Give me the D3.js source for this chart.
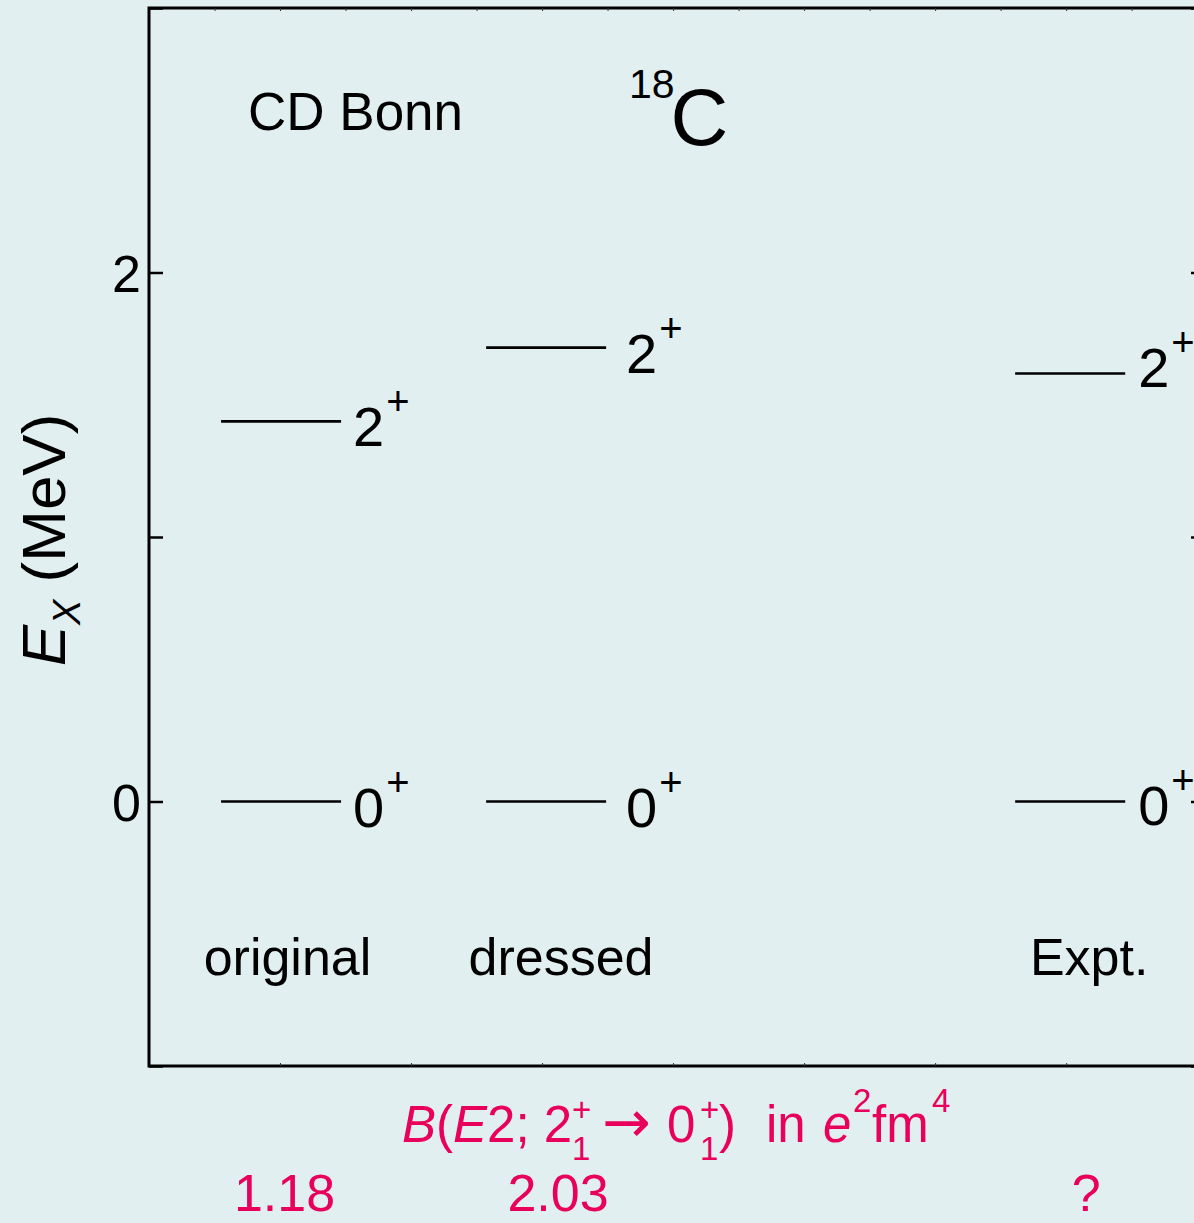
<!DOCTYPE html>
<html>
<head>
<meta charset="utf-8">
<script src="https://cdn.jsdelivr.net/npm/d3@7"></script>
<style>
  body { margin: 0; background: #e1eff0; }
  svg { display: block; }
  text { font-family: "Liberation Sans", Arial, Helvetica, sans-serif; }
</style>
</head>
<body>
<div id="chart"></div>
<script>
// level scheme of 18C, CD Bonn
const columns = ["original", "dressed", "Expt."];
const energy2 = [1.437, 1.716, 1.618];   // 2+ level, MeV
const energy0 = [0, 0, 0];               // 0+ ground state
const spins = ["2", "0"];
const be2Values = ["1.18", "2.03", "?"];
const yTickLabels = [0, 2];

function main() {
    let width = 1194, height = 1223;

    let svg = d3.select("#chart").append("svg")
        .attr("width", width)
        .attr("height", height);

    // x in column units, 131px each
    let xScale = d3.scaleLinear().domain([0, 8.06]).range([149, 1205]);
    let yScale = d3.scaleLinear().domain([-1, 3]).range([1066, 8]);

    // layout of the columns (not data)
    let lineCenter = d3.scaleOrdinal().domain(columns).range([1.008, 3.031, 7.031]);
    let lineHalf = d3.scaleOrdinal().domain(columns).range([0.458, 0.458, 0.42]);
    let labelCenter = d3.scaleOrdinal().domain(columns).range([1.057, 3.145, 7.176]);
    let labelGap = d3.scaleOrdinal().domain(columns).range([12, 20, 13]);

    // frame
    svg.append("rect")
        .attr("x", xScale(0))
        .attr("y", yScale(3))
        .attr("width", xScale(8.06) - xScale(0))
        .attr("height", yScale(-1) - yScale(3))
        .attr("fill", "none")
        .attr("stroke", "black")
        .attr("stroke-width", 3);

    // left ticks (inward)
    let left = svg.append("g")
        .attr("transform", "translate(" + xScale(0) + ",0)")
        .call(d3.axisRight(yScale).tickValues([-1, 0, 1, 2, 3]).tickSize(14).tickSizeOuter(0).tickFormat(""));
    left.select(".domain").remove();
    left.selectAll("line").attr("stroke-width", 2.5);

    let right = svg.append("g")
        .attr("transform", "translate(" + xScale(8.06) + ",0)")
        .call(d3.axisLeft(yScale).tickValues([-1, 0, 1, 2, 3]).tickSize(14).tickSizeOuter(0).tickFormat(""));
    right.select(".domain").remove();
    right.selectAll("line").attr("stroke-width", 2.5);

    // tiny ticks top and bottom
    let bottom = svg.append("g")
        .attr("transform", "translate(0," + yScale(-1) + ")")
        .call(d3.axisTop(xScale).tickValues(d3.range(1, 9)).tickSize(3).tickSizeOuter(0).tickFormat(""));
    bottom.select(".domain").remove();
    bottom.selectAll("line").attr("stroke", "#333");

    let top = svg.append("g")
        .attr("transform", "translate(0," + yScale(3) + ")")
        .call(d3.axisBottom(xScale).tickValues(d3.range(0.5, 8, 0.5)).tickSize(3).tickSizeOuter(0).tickFormat(""));
    top.select(".domain").remove();
    top.selectAll("line").attr("stroke", "#333");

    // y tick labels
    svg.selectAll(".ylab")
        .data(yTickLabels)
        .enter()
        .append("text")
        .attr("class", "ylab")
        .attr("x", xScale(0) - 8)
        .attr("y", d => yScale(d) + 19)
        .attr("text-anchor", "end")
        .attr("font-size", 52)
        .text(d => d);

    // y axis title
    let yt = svg.append("text")
        .attr("transform", "translate(65," + 540 + ") rotate(-90)")
        .attr("text-anchor", "middle")
        .attr("font-size", 62);
    yt.append("tspan").attr("font-style", "italic").text("E");
    yt.append("tspan").attr("font-style", "italic").attr("font-size", 38).attr("dy", 15).text("X");
    yt.append("tspan").attr("dy", -15).text(" (MeV)");

    // levels
    let levels = [];
    columns.forEach(function(c, i) {
        levels.push({col: c, e: energy2[i], spin: spins[0], dy: (i === 2 ? 13 : 25)});
        levels.push({col: c, e: energy0[i], spin: spins[1], dy: (i === 2 ? 23 : 25)});
    });

    svg.selectAll(".level")
        .data(levels)
        .enter()
        .append("line")
        .attr("class", "level")
        .attr("x1", d => xScale(lineCenter(d.col) - lineHalf(d.col)))
        .attr("x2", d => xScale(lineCenter(d.col) + lineHalf(d.col)))
        .attr("y1", d => yScale(d.e))
        .attr("y2", d => yScale(d.e))
        .attr("stroke", "black")
        .attr("stroke-width", 2.6);

    let spinLab = svg.selectAll(".spin")
        .data(levels)
        .enter()
        .append("text")
        .attr("class", "spin")
        .attr("x", d => xScale(lineCenter(d.col) + lineHalf(d.col)) + labelGap(d.col))
        .attr("y", d => yScale(d.e) + d.dy)
        .attr("font-size", 56);
    spinLab.append("tspan").text(d => d.spin);
    spinLab.append("tspan").attr("font-size", 40).attr("dx", 2).attr("dy", -31).text("+");

    // column labels
    svg.selectAll(".collab")
        .data(columns)
        .enter()
        .append("text")
        .attr("class", "collab")
        .attr("x", d => xScale(labelCenter(d)))
        .attr("y", 975)
        .attr("text-anchor", "middle")
        .attr("font-size", 52)
        .text(d => d);

    // B(E2) values
    svg.selectAll(".be2")
        .data(be2Values)
        .enter()
        .append("text")
        .attr("class", "be2")
        .attr("x", (d, i) => xScale(labelCenter(columns[i])) - 3)
        .attr("y", 1211)
        .attr("text-anchor", "middle")
        .attr("font-size", 52)
        .attr("fill", "#e8005a")
        .text(d => d);

    // header texts
    svg.append("text")
        .attr("x", 248)
        .attr("y", 130)
        .attr("font-size", 53)
        .text("CD Bonn");

    let nuc = svg.append("text")
        .attr("x", 629)
        .attr("y", 98)
        .attr("font-size", 41);
    nuc.append("tspan").text("18");
    nuc.append("tspan").attr("font-size", 80).attr("dy", 47).attr("dx", -4).text("C");

    // B(E2) title
    let bt = svg.append("text")
        .attr("x", 402)
        .attr("y", 1142)
        .attr("font-size", 51)
        .attr("fill", "#e8005a");
    bt.append("tspan").attr("font-style", "italic").text("B");
    bt.append("tspan").text("(");
    bt.append("tspan").attr("font-style", "italic").text("E");
    bt.append("tspan").text("2; 2");
    bt.append("tspan").attr("x", 572).attr("dy", 18).attr("font-size", 33).text("1");
    bt.append("tspan").attr("x", 572).attr("dy", -39).attr("font-size", 33).text("+");
    bt.append("tspan").attr("x", 602).attr("dy", 21)
        .style("font-family", "'DejaVu Sans', sans-serif").attr("font-size", 58).text("\u2192");
    bt.append("tspan").attr("x", 667).text("0");
    bt.append("tspan").attr("x", 700).attr("dy", 18).attr("font-size", 33).text("1");
    bt.append("tspan").attr("x", 700).attr("dy", -39).attr("font-size", 33).text("+");
    bt.append("tspan").attr("x", 719).attr("dy", 21).text(")");
    bt.append("tspan").attr("x", 766).text("in");
    bt.append("tspan").attr("x", 823).attr("font-style", "italic").text("e");
    bt.append("tspan").attr("x", 853).attr("dy", -30).attr("font-size", 33).text("2");
    bt.append("tspan").attr("x", 872).attr("dy", 30).text("fm");
    bt.append("tspan").attr("x", 932).attr("dy", -30).attr("font-size", 33).text("4");
}

main();
</script>
</body>
</html>
